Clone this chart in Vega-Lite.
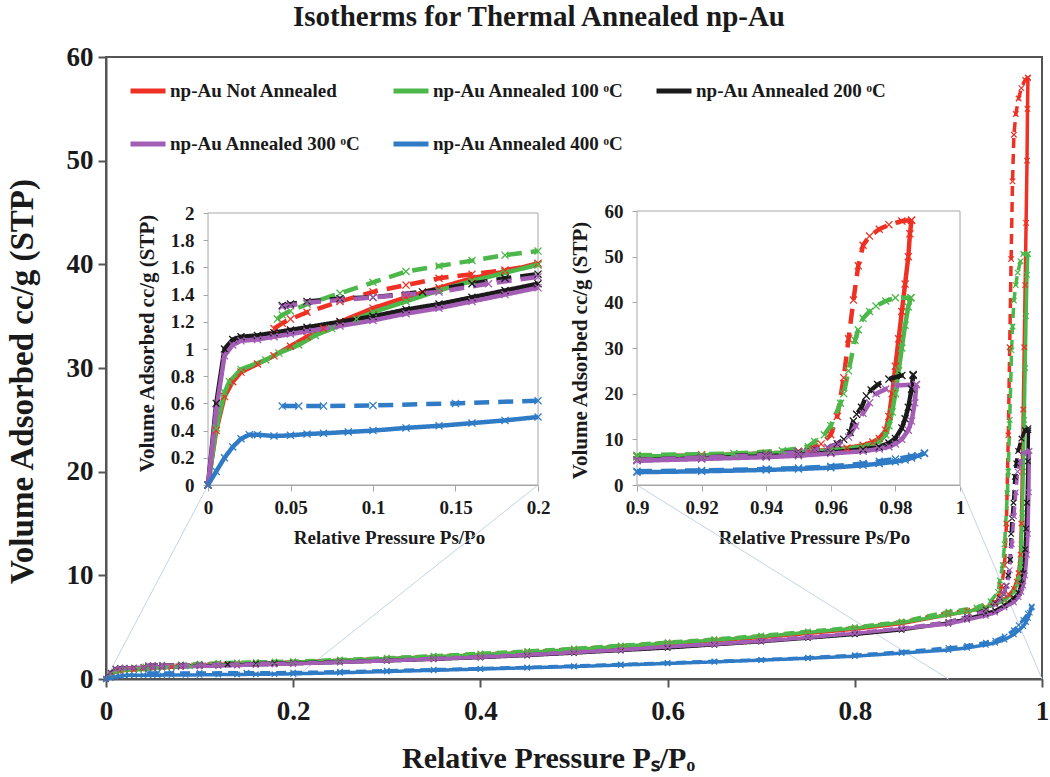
{
"$schema": "https://vega.github.io/schema/vega-lite/v6.json",
"width": 936,
"height": 622,
"autosize": "none",
"padding": {"left": 106, "top": 57, "right": 8, "bottom": 98},
"background": "white",
"title": {"text": "Isotherms for Thermal Annealed  np-Au", "font": "Liberation Serif", "fontSize": 29, "fontWeight": "bold", "color": "#1a1a1a", "anchor": "middle", "frame": "group", "dx": -35, "baseline": "alphabetic", "offset": -12},
"datasets": {
"conn": [
{"p": 0, "v": 0, "p2": 0.109, "v2": 18.71},
{"p": 0.2, "v": 0, "p2": 0.4615, "v2": 18.71},
{"p": 0.9, "v": 0, "p2": 0.5673, "v2": 18.71},
{"p": 1, "v": 0, "p2": 0.9124, "v2": 18.71}
],
"frameL": [{"p": 0, "v": 0, "p2": 0.2, "v2": 2}],
"frameR": [{"p": 0.9, "v": 0, "p2": 1, "v2": 60}],
"iso": [
{"sample":"NA","branch":"ads","p":0,"v":0},{"sample":"NA","branch":"ads","p":0.005,"v":0.4},{"sample":"NA","branch":"ads","p":0.01,"v":0.65},{"sample":"NA","branch":"ads","p":0.015,"v":0.76},{"sample":"NA","branch":"ads","p":0.02,"v":0.83},{"sample":"NA","branch":"ads","p":0.03,"v":0.89},{"sample":"NA","branch":"ads","p":0.04,"v":0.95},{"sample":"NA","branch":"ads","p":0.05,"v":1.02},{"sample":"NA","branch":"ads","p":0.06,"v":1.09},{"sample":"NA","branch":"ads","p":0.07,"v":1.15},{"sample":"NA","branch":"ads","p":0.08,"v":1.2},{"sample":"NA","branch":"ads","p":0.1,"v":1.3},{"sample":"NA","branch":"ads","p":0.12,"v":1.38},{"sample":"NA","branch":"ads","p":0.14,"v":1.45},{"sample":"NA","branch":"ads","p":0.16,"v":1.52},{"sample":"NA","branch":"ads","p":0.18,"v":1.57},{"sample":"NA","branch":"ads","p":0.2,"v":1.63},{"sample":"NA","branch":"ads","p":0.25,"v":1.8},{"sample":"NA","branch":"ads","p":0.3,"v":1.97},{"sample":"NA","branch":"ads","p":0.35,"v":2.13},{"sample":"NA","branch":"ads","p":0.4,"v":2.32},{"sample":"NA","branch":"ads","p":0.45,"v":2.55},{"sample":"NA","branch":"ads","p":0.5,"v":2.8},{"sample":"NA","branch":"ads","p":0.55,"v":3.1},{"sample":"NA","branch":"ads","p":0.6,"v":3.4},{"sample":"NA","branch":"ads","p":0.65,"v":3.7},{"sample":"NA","branch":"ads","p":0.7,"v":4.0},{"sample":"NA","branch":"ads","p":0.75,"v":4.4},{"sample":"NA","branch":"ads","p":0.8,"v":4.8},{"sample":"NA","branch":"ads","p":0.85,"v":5.35},{"sample":"NA","branch":"ads","p":0.9,"v":6.2},{"sample":"NA","branch":"ads","p":0.92,"v":6.5},{"sample":"NA","branch":"ads","p":0.94,"v":6.9},{"sample":"NA","branch":"ads","p":0.95,"v":7.2},{"sample":"NA","branch":"ads","p":0.96,"v":7.7},{"sample":"NA","branch":"ads","p":0.965,"v":8.1},{"sample":"NA","branch":"ads","p":0.97,"v":8.7},{"sample":"NA","branch":"ads","p":0.973,"v":9.4},{"sample":"NA","branch":"ads","p":0.975,"v":10.2},{"sample":"NA","branch":"ads","p":0.977,"v":12},{"sample":"NA","branch":"ads","p":0.978,"v":15},{"sample":"NA","branch":"ads","p":0.979,"v":20},{"sample":"NA","branch":"ads","p":0.98,"v":26},{"sample":"NA","branch":"ads","p":0.981,"v":32},{"sample":"NA","branch":"ads","p":0.982,"v":38},{"sample":"NA","branch":"ads","p":0.983,"v":44},{"sample":"NA","branch":"ads","p":0.984,"v":50},{"sample":"NA","branch":"ads","p":0.9845,"v":55},{"sample":"NA","branch":"ads","p":0.985,"v":58},
{"sample":"NA","branch":"des","p":0.985,"v":58},{"sample":"NA","branch":"des","p":0.982,"v":57.8},{"sample":"NA","branch":"des","p":0.978,"v":57},{"sample":"NA","branch":"des","p":0.975,"v":56},{"sample":"NA","branch":"des","p":0.972,"v":54.5},{"sample":"NA","branch":"des","p":0.97,"v":52.5},{"sample":"NA","branch":"des","p":0.9685,"v":48},{"sample":"NA","branch":"des","p":0.967,"v":40.5},{"sample":"NA","branch":"des","p":0.9655,"v":32},{"sample":"NA","branch":"des","p":0.964,"v":23.5},{"sample":"NA","branch":"des","p":0.962,"v":15},{"sample":"NA","branch":"des","p":0.96,"v":11},{"sample":"NA","branch":"des","p":0.957,"v":9},{"sample":"NA","branch":"des","p":0.954,"v":8},{"sample":"NA","branch":"des","p":0.95,"v":7.4},{"sample":"NA","branch":"des","p":0.94,"v":6.9},{"sample":"NA","branch":"des","p":0.92,"v":6.6},{"sample":"NA","branch":"des","p":0.9,"v":6.4},{"sample":"NA","branch":"des","p":0.85,"v":5.5},{"sample":"NA","branch":"des","p":0.8,"v":4.95},{"sample":"NA","branch":"des","p":0.75,"v":4.5},{"sample":"NA","branch":"des","p":0.7,"v":4.1},{"sample":"NA","branch":"des","p":0.65,"v":3.8},{"sample":"NA","branch":"des","p":0.6,"v":3.5},{"sample":"NA","branch":"des","p":0.55,"v":3.2},{"sample":"NA","branch":"des","p":0.5,"v":2.9},{"sample":"NA","branch":"des","p":0.45,"v":2.65},{"sample":"NA","branch":"des","p":0.4,"v":2.4},{"sample":"NA","branch":"des","p":0.35,"v":2.2},{"sample":"NA","branch":"des","p":0.3,"v":2.0},{"sample":"NA","branch":"des","p":0.25,"v":1.8},{"sample":"NA","branch":"des","p":0.2,"v":1.62},{"sample":"NA","branch":"des","p":0.18,"v":1.58},{"sample":"NA","branch":"des","p":0.16,"v":1.55},{"sample":"NA","branch":"des","p":0.14,"v":1.52},{"sample":"NA","branch":"des","p":0.12,"v":1.47},{"sample":"NA","branch":"des","p":0.1,"v":1.42},{"sample":"NA","branch":"des","p":0.08,"v":1.35},{"sample":"NA","branch":"des","p":0.06,"v":1.27},{"sample":"NA","branch":"des","p":0.05,"v":1.22},{"sample":"NA","branch":"des","p":0.045,"v":1.19},{"sample":"NA","branch":"des","p":0.04,"v":1.15},
{"sample":"100","branch":"ads","p":0,"v":0},{"sample":"100","branch":"ads","p":0.005,"v":0.42},{"sample":"100","branch":"ads","p":0.01,"v":0.68},{"sample":"100","branch":"ads","p":0.013,"v":0.76},{"sample":"100","branch":"ads","p":0.02,"v":0.85},{"sample":"100","branch":"ads","p":0.035,"v":0.92},{"sample":"100","branch":"ads","p":0.043,"v":0.97},{"sample":"100","branch":"ads","p":0.055,"v":1.03},{"sample":"100","branch":"ads","p":0.065,"v":1.1},{"sample":"100","branch":"ads","p":0.075,"v":1.15},{"sample":"100","branch":"ads","p":0.09,"v":1.22},{"sample":"100","branch":"ads","p":0.1,"v":1.27},{"sample":"100","branch":"ads","p":0.12,"v":1.35},{"sample":"100","branch":"ads","p":0.14,"v":1.43},{"sample":"100","branch":"ads","p":0.16,"v":1.5},{"sample":"100","branch":"ads","p":0.18,"v":1.56},{"sample":"100","branch":"ads","p":0.2,"v":1.62},{"sample":"100","branch":"ads","p":0.25,"v":1.8},{"sample":"100","branch":"ads","p":0.3,"v":1.97},{"sample":"100","branch":"ads","p":0.35,"v":2.15},{"sample":"100","branch":"ads","p":0.4,"v":2.35},{"sample":"100","branch":"ads","p":0.45,"v":2.58},{"sample":"100","branch":"ads","p":0.5,"v":2.85},{"sample":"100","branch":"ads","p":0.55,"v":3.15},{"sample":"100","branch":"ads","p":0.6,"v":3.45},{"sample":"100","branch":"ads","p":0.65,"v":3.75},{"sample":"100","branch":"ads","p":0.7,"v":4.1},{"sample":"100","branch":"ads","p":0.75,"v":4.5},{"sample":"100","branch":"ads","p":0.8,"v":4.9},{"sample":"100","branch":"ads","p":0.85,"v":5.45},{"sample":"100","branch":"ads","p":0.9,"v":6.2},{"sample":"100","branch":"ads","p":0.92,"v":6.5},{"sample":"100","branch":"ads","p":0.94,"v":6.9},{"sample":"100","branch":"ads","p":0.95,"v":7.2},{"sample":"100","branch":"ads","p":0.96,"v":7.6},{"sample":"100","branch":"ads","p":0.97,"v":8.4},{"sample":"100","branch":"ads","p":0.975,"v":9.5},{"sample":"100","branch":"ads","p":0.977,"v":11},{"sample":"100","branch":"ads","p":0.978,"v":13},{"sample":"100","branch":"ads","p":0.979,"v":16},{"sample":"100","branch":"ads","p":0.98,"v":20},{"sample":"100","branch":"ads","p":0.981,"v":25},{"sample":"100","branch":"ads","p":0.982,"v":30},{"sample":"100","branch":"ads","p":0.983,"v":35},{"sample":"100","branch":"ads","p":0.984,"v":39},{"sample":"100","branch":"ads","p":0.9848,"v":41},
{"sample":"100","branch":"des","p":0.9848,"v":41},{"sample":"100","branch":"des","p":0.98,"v":41},{"sample":"100","branch":"des","p":0.977,"v":40.3},{"sample":"100","branch":"des","p":0.974,"v":39.2},{"sample":"100","branch":"des","p":0.972,"v":38},{"sample":"100","branch":"des","p":0.97,"v":36.5},{"sample":"100","branch":"des","p":0.9685,"v":34},{"sample":"100","branch":"des","p":0.9675,"v":31.7},{"sample":"100","branch":"des","p":0.9655,"v":25},{"sample":"100","branch":"des","p":0.964,"v":20},{"sample":"100","branch":"des","p":0.963,"v":17.9},{"sample":"100","branch":"des","p":0.96,"v":13},{"sample":"100","branch":"des","p":0.958,"v":11},{"sample":"100","branch":"des","p":0.955,"v":9.5},{"sample":"100","branch":"des","p":0.953,"v":8.4},{"sample":"100","branch":"des","p":0.945,"v":7.5},{"sample":"100","branch":"des","p":0.93,"v":6.9},{"sample":"100","branch":"des","p":0.9,"v":6.5},{"sample":"100","branch":"des","p":0.85,"v":5.55},{"sample":"100","branch":"des","p":0.8,"v":5.0},{"sample":"100","branch":"des","p":0.75,"v":4.6},{"sample":"100","branch":"des","p":0.7,"v":4.2},{"sample":"100","branch":"des","p":0.65,"v":3.85},{"sample":"100","branch":"des","p":0.6,"v":3.55},{"sample":"100","branch":"des","p":0.55,"v":3.25},{"sample":"100","branch":"des","p":0.5,"v":2.95},{"sample":"100","branch":"des","p":0.45,"v":2.7},{"sample":"100","branch":"des","p":0.4,"v":2.48},{"sample":"100","branch":"des","p":0.35,"v":2.25},{"sample":"100","branch":"des","p":0.3,"v":2.05},{"sample":"100","branch":"des","p":0.25,"v":1.88},{"sample":"100","branch":"des","p":0.2,"v":1.72},{"sample":"100","branch":"des","p":0.18,"v":1.69},{"sample":"100","branch":"des","p":0.16,"v":1.65},{"sample":"100","branch":"des","p":0.14,"v":1.61},{"sample":"100","branch":"des","p":0.12,"v":1.57},{"sample":"100","branch":"des","p":0.1,"v":1.49},{"sample":"100","branch":"des","p":0.08,"v":1.41},{"sample":"100","branch":"des","p":0.06,"v":1.33},{"sample":"100","branch":"des","p":0.05,"v":1.28},{"sample":"100","branch":"des","p":0.045,"v":1.25},{"sample":"100","branch":"des","p":0.042,"v":1.22},
{"sample":"200","branch":"ads","p":0,"v":0},{"sample":"200","branch":"ads","p":0.005,"v":0.6},{"sample":"200","branch":"ads","p":0.01,"v":1.0},{"sample":"200","branch":"ads","p":0.015,"v":1.07},{"sample":"200","branch":"ads","p":0.02,"v":1.09},{"sample":"200","branch":"ads","p":0.03,"v":1.1},{"sample":"200","branch":"ads","p":0.04,"v":1.12},{"sample":"200","branch":"ads","p":0.05,"v":1.14},{"sample":"200","branch":"ads","p":0.06,"v":1.16},{"sample":"200","branch":"ads","p":0.08,"v":1.2},{"sample":"200","branch":"ads","p":0.1,"v":1.24},{"sample":"200","branch":"ads","p":0.12,"v":1.29},{"sample":"200","branch":"ads","p":0.14,"v":1.33},{"sample":"200","branch":"ads","p":0.16,"v":1.38},{"sample":"200","branch":"ads","p":0.18,"v":1.43},{"sample":"200","branch":"ads","p":0.2,"v":1.48},{"sample":"200","branch":"ads","p":0.25,"v":1.6},{"sample":"200","branch":"ads","p":0.3,"v":1.75},{"sample":"200","branch":"ads","p":0.35,"v":1.9},{"sample":"200","branch":"ads","p":0.4,"v":2.07},{"sample":"200","branch":"ads","p":0.45,"v":2.27},{"sample":"200","branch":"ads","p":0.5,"v":2.5},{"sample":"200","branch":"ads","p":0.55,"v":2.75},{"sample":"200","branch":"ads","p":0.6,"v":3.0},{"sample":"200","branch":"ads","p":0.65,"v":3.3},{"sample":"200","branch":"ads","p":0.7,"v":3.6},{"sample":"200","branch":"ads","p":0.75,"v":3.95},{"sample":"200","branch":"ads","p":0.8,"v":4.3},{"sample":"200","branch":"ads","p":0.85,"v":4.75},{"sample":"200","branch":"ads","p":0.9,"v":5.4},{"sample":"200","branch":"ads","p":0.92,"v":5.8},{"sample":"200","branch":"ads","p":0.94,"v":6.3},{"sample":"200","branch":"ads","p":0.95,"v":6.6},{"sample":"200","branch":"ads","p":0.96,"v":7.1},{"sample":"200","branch":"ads","p":0.97,"v":7.8},{"sample":"200","branch":"ads","p":0.975,"v":8.3},{"sample":"200","branch":"ads","p":0.978,"v":9.2},{"sample":"200","branch":"ads","p":0.98,"v":10.2},{"sample":"200","branch":"ads","p":0.982,"v":12.5},{"sample":"200","branch":"ads","p":0.983,"v":14.5},{"sample":"200","branch":"ads","p":0.984,"v":17},{"sample":"200","branch":"ads","p":0.985,"v":21},{"sample":"200","branch":"ads","p":0.9855,"v":24},
{"sample":"200","branch":"des","p":0.9855,"v":24.2},{"sample":"200","branch":"des","p":0.982,"v":24},{"sample":"200","branch":"des","p":0.978,"v":23.2},{"sample":"200","branch":"des","p":0.9745,"v":22},{"sample":"200","branch":"des","p":0.9725,"v":20.8},{"sample":"200","branch":"des","p":0.971,"v":19.5},{"sample":"200","branch":"des","p":0.9695,"v":17},{"sample":"200","branch":"des","p":0.968,"v":15.5},{"sample":"200","branch":"des","p":0.967,"v":14},{"sample":"200","branch":"des","p":0.966,"v":11.5},{"sample":"200","branch":"des","p":0.964,"v":10},{"sample":"200","branch":"des","p":0.962,"v":9},{"sample":"200","branch":"des","p":0.959,"v":8.2},{"sample":"200","branch":"des","p":0.955,"v":7.8},{"sample":"200","branch":"des","p":0.95,"v":7.3},{"sample":"200","branch":"des","p":0.94,"v":6.7},{"sample":"200","branch":"des","p":0.92,"v":6.0},{"sample":"200","branch":"des","p":0.9,"v":5.5},{"sample":"200","branch":"des","p":0.85,"v":4.8},{"sample":"200","branch":"des","p":0.8,"v":4.35},{"sample":"200","branch":"des","p":0.75,"v":4.0},{"sample":"200","branch":"des","p":0.7,"v":3.65},{"sample":"200","branch":"des","p":0.65,"v":3.35},{"sample":"200","branch":"des","p":0.6,"v":3.05},{"sample":"200","branch":"des","p":0.55,"v":2.8},{"sample":"200","branch":"des","p":0.5,"v":2.55},{"sample":"200","branch":"des","p":0.45,"v":2.32},{"sample":"200","branch":"des","p":0.4,"v":2.12},{"sample":"200","branch":"des","p":0.35,"v":1.95},{"sample":"200","branch":"des","p":0.3,"v":1.8},{"sample":"200","branch":"des","p":0.25,"v":1.67},{"sample":"200","branch":"des","p":0.2,"v":1.55},{"sample":"200","branch":"des","p":0.18,"v":1.52},{"sample":"200","branch":"des","p":0.16,"v":1.48},{"sample":"200","branch":"des","p":0.13,"v":1.42},{"sample":"200","branch":"des","p":0.1,"v":1.38},{"sample":"200","branch":"des","p":0.08,"v":1.37},{"sample":"200","branch":"des","p":0.06,"v":1.35},{"sample":"200","branch":"des","p":0.05,"v":1.33},{"sample":"200","branch":"des","p":0.045,"v":1.32},
{"sample":"300","branch":"ads","p":0,"v":0},{"sample":"300","branch":"ads","p":0.005,"v":0.55},{"sample":"300","branch":"ads","p":0.01,"v":0.95},{"sample":"300","branch":"ads","p":0.015,"v":1.03},{"sample":"300","branch":"ads","p":0.02,"v":1.06},{"sample":"300","branch":"ads","p":0.03,"v":1.07},{"sample":"300","branch":"ads","p":0.04,"v":1.09},{"sample":"300","branch":"ads","p":0.05,"v":1.11},{"sample":"300","branch":"ads","p":0.06,"v":1.13},{"sample":"300","branch":"ads","p":0.08,"v":1.17},{"sample":"300","branch":"ads","p":0.1,"v":1.21},{"sample":"300","branch":"ads","p":0.12,"v":1.26},{"sample":"300","branch":"ads","p":0.14,"v":1.3},{"sample":"300","branch":"ads","p":0.16,"v":1.35},{"sample":"300","branch":"ads","p":0.18,"v":1.4},{"sample":"300","branch":"ads","p":0.2,"v":1.45},{"sample":"300","branch":"ads","p":0.25,"v":1.6},{"sample":"300","branch":"ads","p":0.3,"v":1.75},{"sample":"300","branch":"ads","p":0.35,"v":1.92},{"sample":"300","branch":"ads","p":0.4,"v":2.1},{"sample":"300","branch":"ads","p":0.45,"v":2.3},{"sample":"300","branch":"ads","p":0.5,"v":2.55},{"sample":"300","branch":"ads","p":0.55,"v":2.8},{"sample":"300","branch":"ads","p":0.6,"v":3.1},{"sample":"300","branch":"ads","p":0.65,"v":3.35},{"sample":"300","branch":"ads","p":0.7,"v":3.65},{"sample":"300","branch":"ads","p":0.75,"v":4.0},{"sample":"300","branch":"ads","p":0.8,"v":4.4},{"sample":"300","branch":"ads","p":0.85,"v":4.85},{"sample":"300","branch":"ads","p":0.9,"v":5.3},{"sample":"300","branch":"ads","p":0.92,"v":5.7},{"sample":"300","branch":"ads","p":0.94,"v":6.1},{"sample":"300","branch":"ads","p":0.95,"v":6.4},{"sample":"300","branch":"ads","p":0.96,"v":6.9},{"sample":"300","branch":"ads","p":0.97,"v":7.4},{"sample":"300","branch":"ads","p":0.975,"v":7.9},{"sample":"300","branch":"ads","p":0.978,"v":8.4},{"sample":"300","branch":"ads","p":0.98,"v":9},{"sample":"300","branch":"ads","p":0.982,"v":10},{"sample":"300","branch":"ads","p":0.984,"v":12},{"sample":"300","branch":"ads","p":0.985,"v":14},{"sample":"300","branch":"ads","p":0.986,"v":18},{"sample":"300","branch":"ads","p":0.9865,"v":22},
{"sample":"300","branch":"des","p":0.9865,"v":22},{"sample":"300","branch":"des","p":0.98,"v":21.8},{"sample":"300","branch":"des","p":0.977,"v":21},{"sample":"300","branch":"des","p":0.974,"v":20},{"sample":"300","branch":"des","p":0.972,"v":18},{"sample":"300","branch":"des","p":0.97,"v":15.7},{"sample":"300","branch":"des","p":0.9677,"v":13},{"sample":"300","branch":"des","p":0.9655,"v":10.5},{"sample":"300","branch":"des","p":0.9624,"v":9},{"sample":"300","branch":"des","p":0.959,"v":8.2},{"sample":"300","branch":"des","p":0.955,"v":7.7},{"sample":"300","branch":"des","p":0.95,"v":7.2},{"sample":"300","branch":"des","p":0.94,"v":6.6},{"sample":"300","branch":"des","p":0.92,"v":6.0},{"sample":"300","branch":"des","p":0.9,"v":5.5},{"sample":"300","branch":"des","p":0.85,"v":4.9},{"sample":"300","branch":"des","p":0.8,"v":4.45},{"sample":"300","branch":"des","p":0.75,"v":4.05},{"sample":"300","branch":"des","p":0.7,"v":3.7},{"sample":"300","branch":"des","p":0.65,"v":3.4},{"sample":"300","branch":"des","p":0.6,"v":3.15},{"sample":"300","branch":"des","p":0.55,"v":2.85},{"sample":"300","branch":"des","p":0.5,"v":2.6},{"sample":"300","branch":"des","p":0.45,"v":2.37},{"sample":"300","branch":"des","p":0.4,"v":2.15},{"sample":"300","branch":"des","p":0.35,"v":1.97},{"sample":"300","branch":"des","p":0.3,"v":1.8},{"sample":"300","branch":"des","p":0.25,"v":1.65},{"sample":"300","branch":"des","p":0.2,"v":1.53},{"sample":"300","branch":"des","p":0.17,"v":1.48},{"sample":"300","branch":"des","p":0.14,"v":1.42},{"sample":"300","branch":"des","p":0.12,"v":1.4},{"sample":"300","branch":"des","p":0.1,"v":1.38},{"sample":"300","branch":"des","p":0.08,"v":1.36},{"sample":"300","branch":"des","p":0.06,"v":1.34},{"sample":"300","branch":"des","p":0.05,"v":1.32},{"sample":"300","branch":"des","p":0.045,"v":1.31},
{"sample":"400","branch":"ads","p":0,"v":0},{"sample":"400","branch":"ads","p":0.005,"v":0.1},{"sample":"400","branch":"ads","p":0.01,"v":0.2},{"sample":"400","branch":"ads","p":0.015,"v":0.28},{"sample":"400","branch":"ads","p":0.02,"v":0.34},{"sample":"400","branch":"ads","p":0.025,"v":0.37},{"sample":"400","branch":"ads","p":0.03,"v":0.37},{"sample":"400","branch":"ads","p":0.04,"v":0.36},{"sample":"400","branch":"ads","p":0.05,"v":0.365},{"sample":"400","branch":"ads","p":0.06,"v":0.375},{"sample":"400","branch":"ads","p":0.07,"v":0.38},{"sample":"400","branch":"ads","p":0.085,"v":0.39},{"sample":"400","branch":"ads","p":0.1,"v":0.4},{"sample":"400","branch":"ads","p":0.12,"v":0.42},{"sample":"400","branch":"ads","p":0.14,"v":0.435},{"sample":"400","branch":"ads","p":0.16,"v":0.455},{"sample":"400","branch":"ads","p":0.18,"v":0.475},{"sample":"400","branch":"ads","p":0.2,"v":0.5},{"sample":"400","branch":"ads","p":0.25,"v":0.6},{"sample":"400","branch":"ads","p":0.3,"v":0.72},{"sample":"400","branch":"ads","p":0.35,"v":0.84},{"sample":"400","branch":"ads","p":0.4,"v":0.96},{"sample":"400","branch":"ads","p":0.45,"v":1.08},{"sample":"400","branch":"ads","p":0.5,"v":1.2},{"sample":"400","branch":"ads","p":0.55,"v":1.35},{"sample":"400","branch":"ads","p":0.6,"v":1.5},{"sample":"400","branch":"ads","p":0.65,"v":1.65},{"sample":"400","branch":"ads","p":0.7,"v":1.82},{"sample":"400","branch":"ads","p":0.75,"v":2.0},{"sample":"400","branch":"ads","p":0.8,"v":2.2},{"sample":"400","branch":"ads","p":0.85,"v":2.5},{"sample":"400","branch":"ads","p":0.9,"v":2.8},{"sample":"400","branch":"ads","p":0.92,"v":3.0},{"sample":"400","branch":"ads","p":0.94,"v":3.3},{"sample":"400","branch":"ads","p":0.95,"v":3.5},{"sample":"400","branch":"ads","p":0.96,"v":3.8},{"sample":"400","branch":"ads","p":0.97,"v":4.3},{"sample":"400","branch":"ads","p":0.975,"v":4.7},{"sample":"400","branch":"ads","p":0.98,"v":5.1},{"sample":"400","branch":"ads","p":0.983,"v":5.5},{"sample":"400","branch":"ads","p":0.985,"v":5.9},{"sample":"400","branch":"ads","p":0.987,"v":6.4},{"sample":"400","branch":"ads","p":0.989,"v":6.9},
{"sample":"400","branch":"des","p":0.989,"v":7.0},{"sample":"400","branch":"des","p":0.985,"v":6.3},{"sample":"400","branch":"des","p":0.98,"v":5.7},{"sample":"400","branch":"des","p":0.975,"v":5.2},{"sample":"400","branch":"des","p":0.97,"v":4.7},{"sample":"400","branch":"des","p":0.96,"v":4.1},{"sample":"400","branch":"des","p":0.95,"v":3.7},{"sample":"400","branch":"des","p":0.94,"v":3.5},{"sample":"400","branch":"des","p":0.92,"v":3.2},{"sample":"400","branch":"des","p":0.9,"v":3.0},{"sample":"400","branch":"des","p":0.85,"v":2.6},{"sample":"400","branch":"des","p":0.8,"v":2.3},{"sample":"400","branch":"des","p":0.75,"v":2.05},{"sample":"400","branch":"des","p":0.7,"v":1.85},{"sample":"400","branch":"des","p":0.65,"v":1.7},{"sample":"400","branch":"des","p":0.6,"v":1.55},{"sample":"400","branch":"des","p":0.55,"v":1.4},{"sample":"400","branch":"des","p":0.5,"v":1.25},{"sample":"400","branch":"des","p":0.45,"v":1.12},{"sample":"400","branch":"des","p":0.4,"v":1.0},{"sample":"400","branch":"des","p":0.35,"v":0.9},{"sample":"400","branch":"des","p":0.3,"v":0.8},{"sample":"400","branch":"des","p":0.25,"v":0.7},{"sample":"400","branch":"des","p":0.2,"v":0.62},{"sample":"400","branch":"des","p":0.15,"v":0.6},{"sample":"400","branch":"des","p":0.1,"v":0.585},{"sample":"400","branch":"des","p":0.07,"v":0.58},{"sample":"400","branch":"des","p":0.055,"v":0.58},{"sample":"400","branch":"des","p":0.045,"v":0.58}
]
},
"layer": [
{
"encoding": {
"x": {"field": "p", "type": "quantitative", "scale": {"domain": [0, 1], "nice": false, "zero": false}, "axis": {"orient": "bottom", "values": [0, 0.2, 0.4, 0.6, 0.8, 1], "format": "~g", "title": "Relative Pressure Pₛ/Pₒ", "titleFontSize": 30, "titleX": 442, "titleY": 79, "titleBaseline": "middle", "labelFontSize": 27, "tickSize": 8, "labelPadding": 11, "domainColor": "#555555", "tickColor": "#555555", "domainWidth": 2, "tickWidth": 2}},
"y": {"field": "v", "type": "quantitative", "scale": {"domain": [0, 60], "nice": false}, "axis": {"orient": "left", "values": [0, 10, 20, 30, 40, 50, 60], "title": "Volume Adsorbed cc/g (STP)", "titleFontSize": 33, "titleX": -84, "titleY": 324, "titleBaseline": "middle", "labelFontSize": 27, "tickSize": 8, "labelPadding": 5, "domainColor": "#555555", "tickColor": "#555555", "domainWidth": 2, "tickWidth": 2}},
"color": {"field": "sample", "type": "nominal", "scale": {"domain": ["NA", "100", "200", "300", "400"], "range": ["#ee3124", "#4cb84a", "#1a1a1a", "#a45db5", "#2f7bc6"]},
"legend": {"orient": "none", "legendX": 22, "legendY": 14, "columns": 3, "values": ["NA", "300", "100", "400", "200"], "gridAlign": "all", "columnPadding": 22, "rowPadding": 23, "padding": 0, "title": null, "symbolType": "M-1,0L1,0", "symbolSize": 1225, "symbolStrokeWidth": 5, "symbolFillColor": "transparent", "labelFont": "Liberation Serif", "labelFontWeight": "bold", "labelFontSize": 19, "labelColor": "#1a1a1a", "labelOffset": 2, "labelLimit": 400,
"labelExpr": "datum.label == 'NA' ? 'np-Au Not Annealed' : 'np-Au Annealed ' + datum.label + ' ᵒC'"}}
},
"layer": [
{"data": {"name": "conn"}, "mark": {"type": "rule", "strokeWidth": 1}, "encoding": {"x2": {"field": "p2"}, "y2": {"field": "v2"}, "color": {"value": "#c3d4e8"}}},
{"data": {"name": "iso"}, "mark": {"type": "line", "strokeWidth": 3.5}, "encoding": {"strokeDash": {"field": "branch", "type": "nominal", "scale": {"domain": ["ads", "des"], "range": [[1, 0], [10, 6]]}, "legend": null}}},
{"data": {"name": "iso"}, "mark": {"type": "point", "shape": "M-1,-1L1,1M-1,1L1,-1", "filled": false, "size": 30, "strokeWidth": 1.2, "opacity": 1}}
]
},
{
"encoding": {
"x": {"field": "p", "type": "quantitative", "scale": {"domain": [0, 0.2], "range": [102, 432], "nice": false, "zero": false}, "axis": {"orient": "bottom", "offset": -194, "values": [0, 0.05, 0.1, 0.15, 0.2], "format": "~g", "title": "Relative Pressure Ps/Po", "titleFontSize": 19, "titleX": 283, "titleY": 52, "titleBaseline": "middle", "labelFontSize": 19, "tickSize": 6, "labelPadding": 7, "domainColor": "#a6a6a6", "tickColor": "#a6a6a6", "domainWidth": 1}},
"y": {"field": "v", "type": "quantitative", "scale": {"domain": [0, 2], "range": [428, 156], "nice": false}, "axis": {"orient": "left", "offset": -102, "values": [0, 0.2, 0.4, 0.6, 0.8, 1, 1.2, 1.4, 1.6, 1.8, 2], "format": "~g", "title": "Volume Adsorbed cc/g (STP)", "titleFontSize": 21, "titleX": -61, "titleY": 286, "titleBaseline": "middle", "labelFontSize": 19, "tickSize": 5, "labelPadding": 9, "domainColor": "#a6a6a6", "tickColor": "#a6a6a6", "domainWidth": 1}},
"color": {"field": "sample", "type": "nominal", "scale": {"domain": ["NA", "100", "200", "300", "400"], "range": ["#ee3124", "#4cb84a", "#1a1a1a", "#a45db5", "#2f7bc6"]}}
},
"layer": [
{"data": {"name": "frameL"}, "mark": {"type": "rect", "stroke": "#a6a6a6", "strokeWidth": 1}, "encoding": {"x2": {"field": "p2"}, "y2": {"field": "v2"}, "color": {"value": "white"}}},
{"data": {"name": "iso"}, "transform": [{"filter": "datum.p <= 0.2"}], "mark": {"type": "line", "strokeWidth": 4.5}, "encoding": {"strokeDash": {"field": "branch", "type": "nominal", "scale": {"domain": ["ads", "des"], "range": [[1, 0], [15, 9]]}, "legend": null}}},
{"data": {"name": "iso"}, "transform": [{"filter": "datum.p <= 0.2"}], "mark": {"type": "point", "shape": "M-1,-1L1,1M-1,1L1,-1", "filled": false, "size": 50, "strokeWidth": 1.3, "opacity": 1}}
]
},
{
"encoding": {
"x": {"field": "p", "type": "quantitative", "scale": {"domain": [0.9, 1], "range": [531, 854], "nice": false, "zero": false}, "axis": {"orient": "bottom", "offset": -194, "values": [0.9, 0.92, 0.94, 0.96, 0.98, 1], "format": "~g", "title": "Relative Pressure Ps/Po", "titleFontSize": 19, "titleX": 708, "titleY": 52, "titleBaseline": "middle", "labelFontSize": 19, "tickSize": 6, "labelPadding": 7, "domainColor": "#a6a6a6", "tickColor": "#a6a6a6", "domainWidth": 1}},
"y": {"field": "v", "type": "quantitative", "scale": {"domain": [0, 60], "range": [428, 154], "nice": false}, "axis": {"orient": "left", "offset": -531, "values": [0, 10, 20, 30, 40, 50, 60], "title": "Volume Adsorbed cc/g (STP)", "titleFontSize": 21, "titleX": -57, "titleY": 293, "titleBaseline": "middle", "labelFontSize": 19, "tickSize": 5, "labelPadding": 9, "domainColor": "#a6a6a6", "tickColor": "#a6a6a6", "domainWidth": 1}},
"color": {"field": "sample", "type": "nominal", "scale": {"domain": ["NA", "100", "200", "300", "400"], "range": ["#ee3124", "#4cb84a", "#1a1a1a", "#a45db5", "#2f7bc6"]}}
},
"layer": [
{"data": {"name": "frameR"}, "mark": {"type": "rect", "stroke": "#a6a6a6", "strokeWidth": 1}, "encoding": {"x2": {"field": "p2"}, "y2": {"field": "v2"}, "color": {"value": "white"}}},
{"data": {"name": "iso"}, "transform": [{"filter": "datum.p >= 0.9"}], "mark": {"type": "line", "strokeWidth": 4.5}, "encoding": {"strokeDash": {"field": "branch", "type": "nominal", "scale": {"domain": ["ads", "des"], "range": [[1, 0], [15, 9]]}, "legend": null}}},
{"data": {"name": "iso"}, "transform": [{"filter": "datum.p >= 0.9"}], "mark": {"type": "point", "shape": "M-1,-1L1,1M-1,1L1,-1", "filled": false, "size": 50, "strokeWidth": 1.3, "opacity": 1}}
]
}
],
"resolve": {"scale": {"x": "independent", "y": "independent", "strokeDash": "independent"}, "axis": {"x": "independent", "y": "independent"}},
"config": {
"font": "Liberation Serif",
"view": {"stroke": "#555555", "strokeWidth": 2},
"axis": {"grid": false, "labelFont": "Liberation Serif", "titleFont": "Liberation Serif", "labelFontWeight": "bold", "titleFontWeight": "bold", "labelColor": "#1a1a1a", "titleColor": "#1a1a1a", "labelFlush": false, "labelOverlap": false}
}
}
